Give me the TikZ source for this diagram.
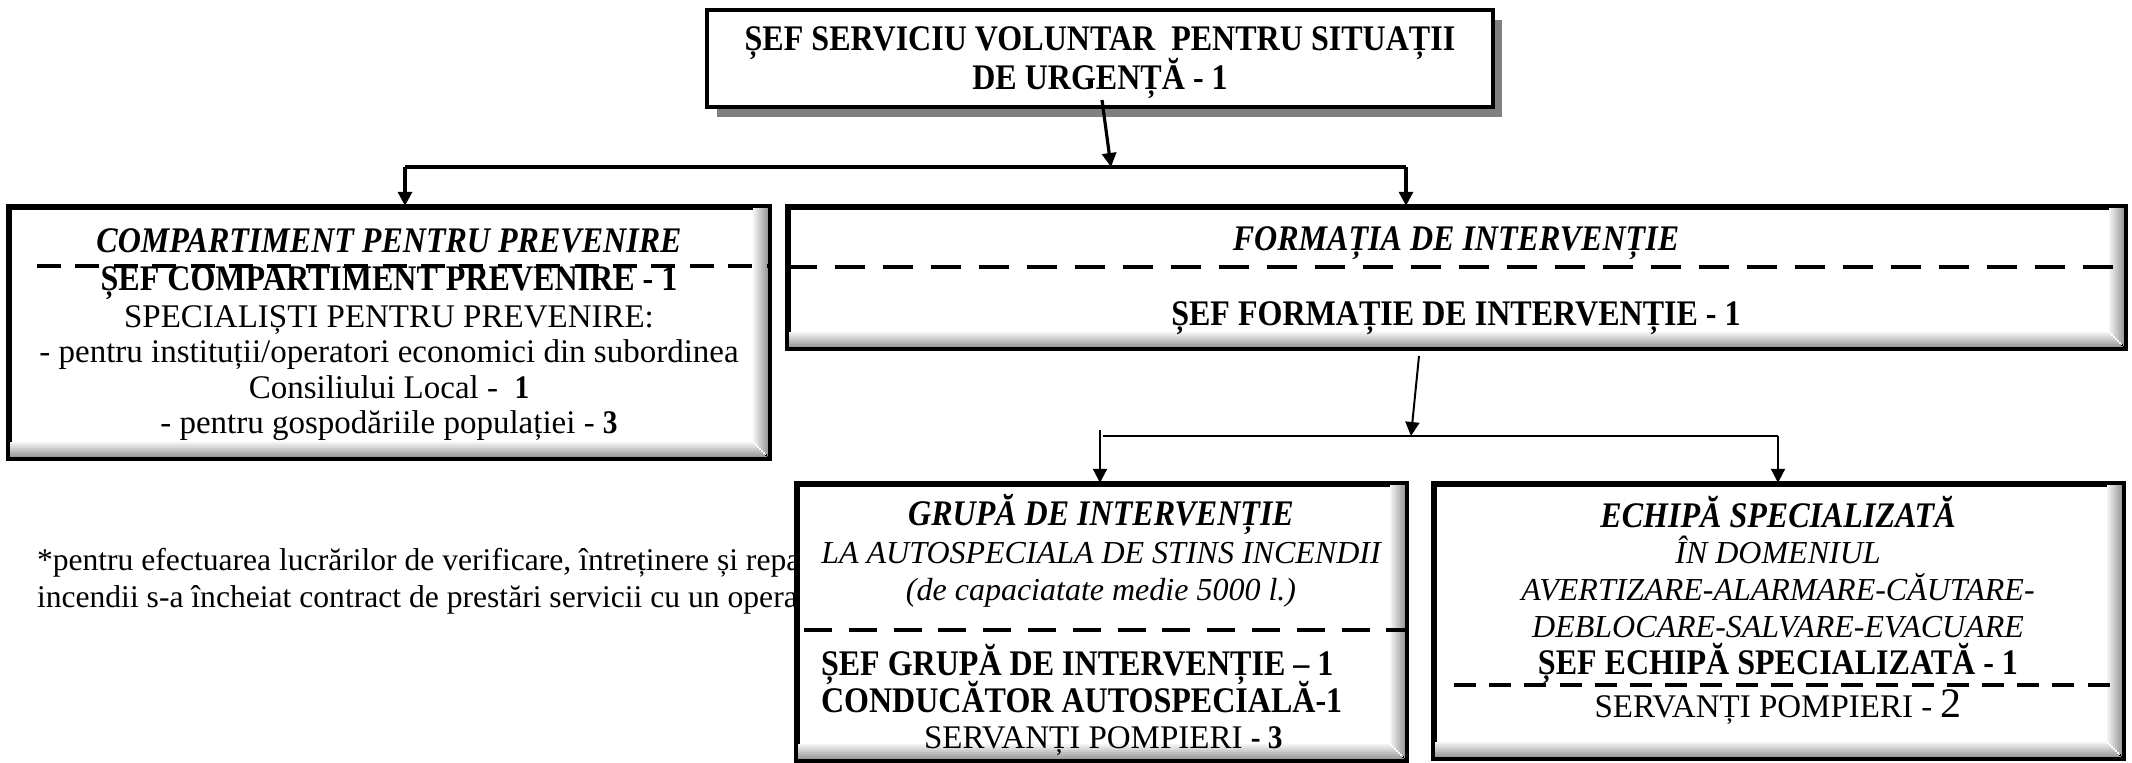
\documentclass[tikz,border=0pt]{standalone}
\usepackage{fontspec}
\setmainfont{Liberation Serif}[BoldFeatures={FakeStretch=0.89},BoldItalicFeatures={FakeStretch=0.89}]
\usetikzlibrary{arrows.meta,calc}
\newcommand{\innershade}[1]{%
  \foreach \i in {1,...,8}{%
    \pgfmathsetmacro\g{5*\i}%
    \fill[black!\g] ($(#1.south west)+(2,{-(19-2*\i)})$) rectangle ($(#1.south east)+({-(19-2*\i)},-2)$);
    \fill[black!\g] ($(#1.north east)+({-(19-2*\i)},2)$) rectangle ($(#1.south east)+(-2,{-(19-2*\i)})$);
  }
  \draw[line width=2.2pt] (#1.south west) rectangle (#1.north east);
}
\begin{document}
\begin{tikzpicture}[x=0.5pt,y=-0.5pt,
  box/.style={draw, line width=2.2pt, fill=white, inner sep=0pt, rectangle},
  txt/.style={anchor=base, inner sep=0pt, outer sep=0pt, font=\fontsize{16.5}{19}\selectfont},
  bt/.style={txt, font=\fontsize{18}{21}\selectfont\bfseries},
  it/.style={txt, font=\fontsize{16}{19}\selectfont\itshape},
  bit/.style={txt, font=\fontsize{18}{21}\selectfont\bfseries\itshape},
  fn/.style={txt, anchor=base west, font=\fontsize{15.8}{19}\selectfont},
  dashline/.style={line width=2pt, dash pattern=on #1pt off 0.6*#1pt},
  conn/.style={line width=1.6pt},
  connthin/.style={line width=1pt},
  tip/.style={-{Triangle[width=7pt,length=7pt]}}
]
\useasboundingbox (0,0) rectangle (2132,762);
\fill[white] (0,0) rectangle (2132,762);

% footnote (partly covered by the group box)
\node[fn] (fn1) at (37,570) {*pentru efectuarea lucrărilor de verificare, întreținere și repa};
\node[fn] (fn2) at (37,607) {incendii s-a încheiat contract de prestări servicii cu un opera};

% top box with shadow
\fill[black!50] (717,20) rectangle (1502,117);
\node[box, minimum width=393pt, minimum height=48.5pt] (top) at (1100,58.5) {};
\node[bt] (top1) at (1100,50) {ȘEF SERVICIU VOLUNTAR\ \ PENTRU SITUAȚII};
\node[bt] (top2) at (1100,89) {DE URGENȚĂ - 1};

% left box: compartiment
\node[box, minimum width=379pt, minimum height=124.5pt] (prev) at (389,332.5) {};
\innershade{prev}
\node[bit] (p1) at (389,252) {COMPARTIMENT PENTRU PREVENIRE};
\draw[dashline=12] (37,266) -- (prev.east |- 0,266);
\node[bt] (p2) at (389,290) {ȘEF COMPARTIMENT PREVENIRE - 1};
\node[txt] (p3) at (389,327) {SPECIALIȘTI PENTRU PREVENIRE:};
\node[txt] (p4) at (389,362) {- pentru instituții/operatori economici din subordinea};
\node[txt] (p5) at (389,398) {Consiliului Local -\ \ \textbf{1}};
\node[txt] (p6) at (389,433) {- pentru gospodăriile populației - \textbf{3}};

% right box: formatia
\node[box, minimum width=667.5pt, minimum height=69.5pt] (form) at (1456.5,277.5) {};
\innershade{form}
\node[bit] (f1) at (1456,250) {FORMAȚIA DE INTERVENȚIE};
\draw[dashline=15] (form.west |- 0,267) -- (form.east |- 0,267);
\node[bt] (f2) at (1456,325) {ȘEF FORMAȚIE DE INTERVENȚIE - 1};

% bottom left: grupa
\node[box, minimum width=303.5pt, minimum height=137pt] (grp) at (1101.5,622) {};
\innershade{grp}
\node[bit] (g1) at (1101,525) {GRUPĂ DE INTERVENȚIE};
\node[it] (g2) at (1101,563) {LA AUTOSPECIALA DE STINS INCENDII};
\node[it] (g3) at (1101,600) {(de capaciatate medie 5000 l.)};
\draw[dashline=14] (804,630) -- (grp.east |- 0,630);
\node[bt, anchor=base west] (g4) at (821,675) {ȘEF GRUPĂ DE INTERVENȚIE – 1};
\node[bt, anchor=base west] (g5) at (821,712) {CONDUCĂTOR AUTOSPECIALĂ-1};
\node[txt, anchor=base west] (g6) at (924,748) {SERVANȚI POMPIERI \textbf{- 3}};

% bottom right: echipa
\node[box, minimum width=343.5pt, minimum height=136pt] (ech) at (1778.5,621) {};
\innershade{ech}
\node[bit] (e1) at (1778,527) {ECHIPĂ SPECIALIZATĂ};
\node[it] (e2) at (1778,563) {ÎN DOMENIUL};
\node[it] (e3) at (1778,600) {AVERTIZARE-ALARMARE-CĂUTARE-};
\node[it] (e4) at (1778,637) {DEBLOCARE-SALVARE-EVACUARE};
\node[bt] (e5) at (1778,674) {ȘEF ECHIPĂ SPECIALIZATĂ - 1};
\draw[dashline=11] (1454,685) -- (ech.east |- 0,685);
\node[txt] (e6) at (1778,717) {SERVANȚI POMPIERI - {\fontsize{21}{21}\selectfont 2}};

% connectors level 1
\coordinate (s1) at (1102,100);
\coordinate (j1) at (1111,167);
\coordinate (jl) at (405,167);
\coordinate (jr) at (1406,167);
\draw[conn, tip] (s1) -- (j1);
\draw[conn] (jl) -- (jr);
\draw[conn, tip] (jl) -- (jl |- prev.north);
\draw[conn, tip] (jr) -- (jr |- form.north);

% connectors level 2
\coordinate (s2) at (1419,356);
\coordinate (j2) at (1411,436);
\coordinate (kl) at (1103,436);
\coordinate (kr) at (1778,436);
\coordinate (kl0) at (1100,430);
\draw[connthin, tip] (s2) -- (j2);
\draw[connthin] (kl) -- (kr);
\draw[connthin, tip] (kl0) -- (kl0 |- grp.north);
\draw[connthin, tip] (kr) -- (kr |- ech.north);
\end{tikzpicture}
\end{document}
